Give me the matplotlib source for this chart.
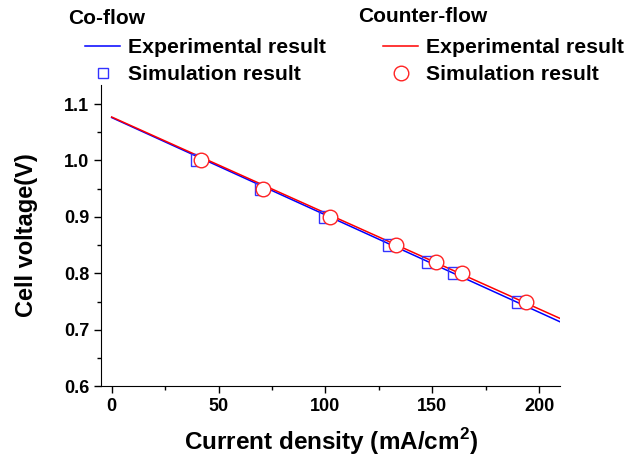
import numpy as np
import matplotlib.pyplot as plt
from matplotlib.ticker import MultipleLocator

plt.rcParams['font.family'] = ['Liberation Sans', 'DejaVu Sans']
plt.rcParams['font.weight'] = 'bold'
plt.rcParams['mathtext.fontset'] = 'custom'
plt.rcParams['mathtext.rm'] = 'Liberation Sans:bold'
plt.rcParams['mathtext.bf'] = 'Liberation Sans:bold'

# experimental (fitted) lines
exp_x = [0, 210]
exp_co_v = [1.076, 0.714]
exp_counter_v = [1.077, 0.720]

# simulation points
sim_co_x = [40, 70, 100, 130, 148, 160, 190]
sim_co_v = [1.00, 0.95, 0.90, 0.85, 0.82, 0.80, 0.75]
sim_counter_x = [42, 71, 102, 133, 152, 164, 194]
sim_counter_v = [1.00, 0.95, 0.90, 0.85, 0.82, 0.80, 0.75]

fig = plt.figure(figsize=(6.25, 4.66), dpi=100)
ax = fig.add_axes([0.1616, 0.171, 0.735, 0.647])

l1, = ax.plot(exp_x, exp_co_v, color='#0000ff', lw=1.1)
l2, = ax.plot(exp_x, exp_counter_v, color='#ff0000', lw=1.1)
s1, = ax.plot(sim_co_x, sim_co_v, 's', ms=8.5, mfc='none', mec='#3333ff', mew=1.0, ls='none')
s2, = ax.plot(sim_counter_x, sim_counter_v, 'o', ms=10.5, mfc='white', mec='#ff2222', mew=1.0, ls='none')

ax.set_xlim(-5, 210)
ax.set_ylim(0.6, 1.134)
ax.xaxis.set_major_locator(MultipleLocator(50))
ax.xaxis.set_minor_locator(MultipleLocator(25))
ax.yaxis.set_major_locator(MultipleLocator(0.1))
ax.yaxis.set_minor_locator(MultipleLocator(0.05))
ax.yaxis.set_major_formatter(plt.FormatStrFormatter('%.1f'))
for side in ['top', 'right']:
    ax.spines[side].set_visible(False)
ax.tick_params(which='major', direction='out', length=5, width=1, labelsize=13)
ax.tick_params(which='minor', direction='out', length=3, width=1)
for lab in ax.get_xticklabels() + ax.get_yticklabels():
    lab.set_fontweight('bold')

ax.set_xlabel('Current density (mA/cm$^{2}$)', fontsize=17.5, fontweight='bold', labelpad=8)
ax.set_ylabel('Cell voltage(V)', fontsize=17, fontweight='bold', labelpad=19)

# legend group titles
fig.text(68 / 625, 1 - 18 / 466, 'Co-flow', fontsize=15, fontweight='bold', va='center')
fig.text(358 / 625, 1 - 17 / 466, 'Counter-flow', fontsize=15, fontweight='bold', va='center')

leg_kw = dict(frameon=False, prop={'size': 15.3, 'weight': 'bold'},
              handlelength=1.65, handletextpad=0.38, labelspacing=0.38,
              borderpad=0, borderaxespad=0, loc='upper left')
fig.legend([l1, s1], ['Experimental result', 'Simulation result'],
           bbox_to_anchor=(85 / 625, 1 - 38 / 466), markerscale=0.9, **leg_kw)
fig.legend([l2, s2], ['Experimental result', 'Simulation result'],
           bbox_to_anchor=(383 / 625, 1 - 38 / 466), markerscale=1.0, **leg_kw)

fig.savefig('out.png', dpi=100)
